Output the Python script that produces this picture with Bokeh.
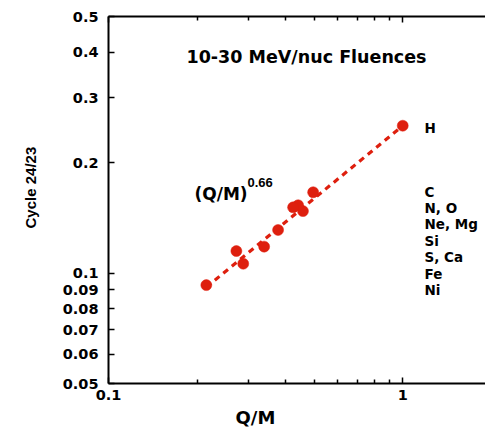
from bokeh.plotting import figure
from bokeh.models import Range1d, FixedTicker, LogAxis, Label, Title
from bokeh.embed import file_html
from bokeh.resources import INLINE

# ---- data ----
qm = [1.0, 0.496, 0.458, 0.441, 0.424, 0.377, 0.338, 0.287, 0.272, 0.215]
ratio = [0.252, 0.166, 0.1475, 0.153, 0.151, 0.131, 0.118, 0.106, 0.1148, 0.0927]
fit_qm = [0.215, 1.0]
fit_ratio = [0.0915, 0.252]

x_major = [0.1, 1.0]
x_major_labels = ["0.1", "1"]
x_minor = [0.2, 0.3, 0.4, 0.5, 0.6, 0.7, 0.8, 0.9]
y_ticks = [0.05, 0.06, 0.07, 0.08, 0.09, 0.1, 0.2, 0.3, 0.4, 0.5]
y_tick_labels = ["0.05", "0.06", "0.07", "0.08", "0.09", "0.1", "0.2", "0.3", "0.4", "0.5"]
element_top = "H"
element_groups = ["C", "N, O", "Ne, Mg", "Si", "S, Ca", "Fe", "Ni"]

title_text = "10-30 MeV/nuc Fluences"
fit_text = "(Q/M)"
fit_exp = "0.66"
x_label = "Q/M"
y_label = "Cycle 24/23"

RED = "#de1f0e"
FONT = "DejaVu Sans"
W, H = 485, 432
FL, FB = 107, 383   # frame left / bottom in page pixels (layout)

p = figure(width=W, height=H, x_axis_type="log", y_axis_type="log",
           x_range=Range1d(0.1, 1.911), y_range=Range1d(0.05, 0.5),
           output_backend="svg", toolbar_location=None,
           min_border_left=FL, min_border_right=0, min_border_top=16,
           min_border_bottom=H - FB)
p.outline_line_color = None
p.xgrid.visible = False
p.ygrid.visible = False
p.background_fill_color = "white"
p.border_fill_color = "white"

def style_axis(ax):
    ax.axis_line_width = 2
    ax.axis_line_color = "black"
    ax.major_tick_in = 6
    ax.major_tick_out = 0
    ax.minor_tick_in = 4
    ax.minor_tick_out = 0
    ax.major_tick_line_width = 1.5
    ax.minor_tick_line_width = 1.5
    ax.major_label_text_font = FONT
    ax.major_label_text_font_style = "bold"
    ax.major_label_text_font_size = "14.5px"
    ax.major_label_text_color = "black"

xa = p.xaxis[0]
xa.ticker = FixedTicker(ticks=x_major, minor_ticks=x_minor)
xa.major_label_overrides = dict(zip(x_major, x_major_labels))
style_axis(xa)
xa.major_label_standoff = 6

ya = p.yaxis[0]
ya.ticker = FixedTicker(ticks=y_ticks, minor_ticks=[])
ya.major_label_overrides = dict(zip(y_ticks, y_tick_labels))
style_axis(ya)
ya.major_label_standoff = 10

top = LogAxis(ticker=FixedTicker(ticks=x_major, minor_ticks=x_minor))
style_axis(top)
top.major_label_text_font_size = "1px"
top.major_label_text_alpha = 0
top.major_label_standoff = 0
p.add_layout(top, "above")

# axis titles as side-panel titles (so they can sit off-centre like the reference)
p.add_layout(Title(text=x_label, align="left", offset=127, standoff=6,
                   text_font=FONT, text_font_style="bold", text_font_size="18px",
                   text_color="black", vertical_align="middle"), "below")
p.add_layout(Title(text=y_label, align="left", offset=155, standoff=40,
                   text_font="Liberation Sans", text_font_style="bold",
                   text_font_size="15px", text_color="black",
                   vertical_align="middle"), "left")

# fit line and points
p.line(fit_qm, fit_ratio, line_color=RED, line_width=3.2, line_dash="6 5")
p.scatter(qm, ratio, size=11, fill_color=RED, line_color=RED, line_width=0.5)

def add_label(text, px, py, size, align="left", font=FONT, baseline="middle"):
    # screen units are relative to the frame's bottom-left corner
    p.add_layout(Label(x=px - FL, y=FB - py, x_units="screen", y_units="screen",
                       text=text, text_font=font, text_font_style="bold",
                       text_font_size=size, text_align=align, text_baseline=baseline,
                       text_color="black"))

add_label(title_text, 305, 56, "17.5px", align="center")
add_label(fit_text, 193, 193, "17px")
add_label(fit_exp, 246, 182, "13px", font="Liberation Sans")
add_label(element_top, 423, 127, "13.5px")
for i, g in enumerate(element_groups):
    add_label(g, 423, 191 + i * 16.4, "13.5px")

open("out.html", "w").write(file_html(p, INLINE))
